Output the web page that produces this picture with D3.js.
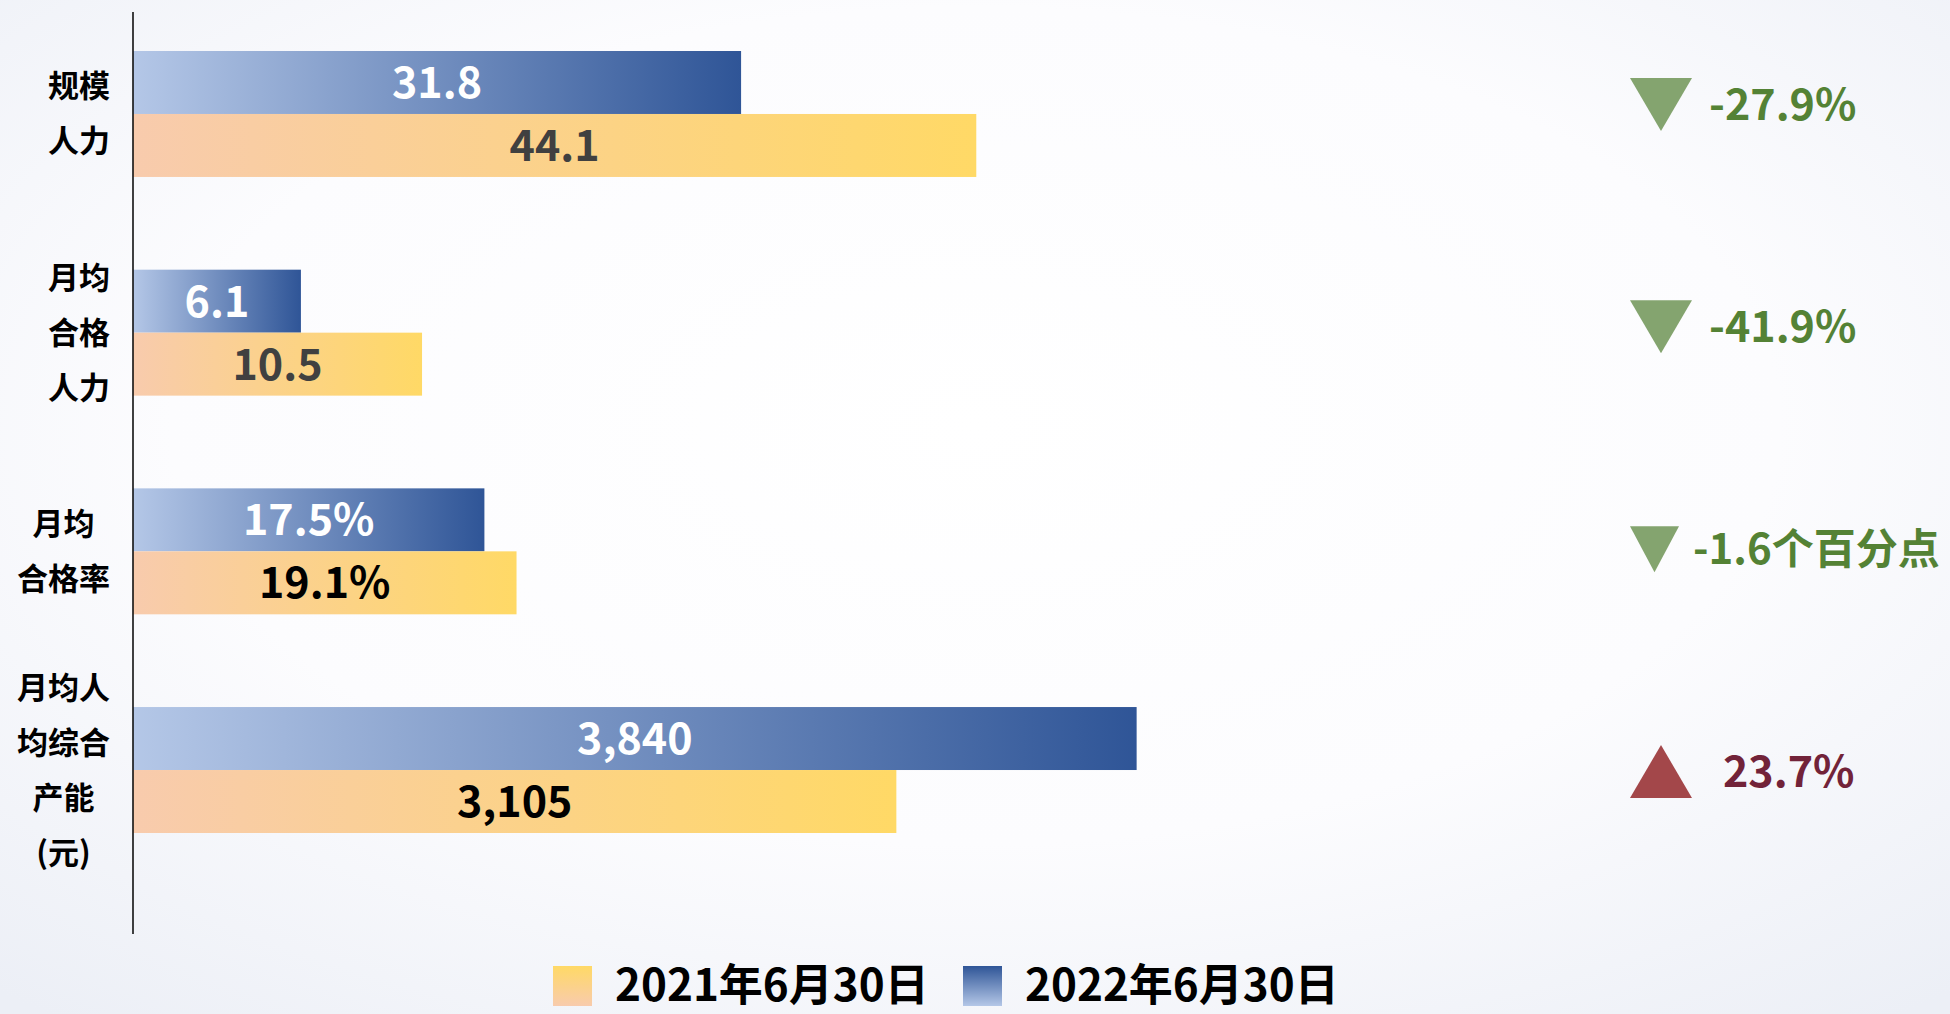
<!DOCTYPE html>
<html>
<head>
<meta charset="utf-8">
<script src="https://cdn.jsdelivr.net/npm/d3@7"></script>
<style>
    html, body { margin: 0; padding: 0; overflow: hidden; }
    body { width: 1950px; height: 1014px; }
    text { font-family: "Noto Sans CJK SC", "Noto Sans", sans-serif; font-weight: 700; }
</style>
</head>
<body>
<div id="chart"></div>
<script>
// categories, one label per group (split in lines as on the slide)
var categories = ["规模人力", "月均合格人力", "月均合格率", "月均人均综合产能(元)"];
var categoryLines = [["规模", "人力"], ["月均", "合格", "人力"], ["月均", "合格率"], ["月均人", "均综合", "产能", "(元)"]];

// series values
var seriesNames = ["2022年6月30日", "2021年6月30日"];
var values2022 = [31.8, 6.1, 17.5, 3840];
var values2021 = [44.1, 10.5, 19.1, 3105];

// each group has its own value scale on the slide
var domainMin = [0, 0, 0, 770];
var domainMax = [52.4, 36.4, 49.9, 3835];
var valueFormats = [".1f", ".1f", ".1f", ",.0f"];
var valueSuffix = ["", "", "%", ""];

// year-on-year change
var changeLabels = ["-27.9%", "-41.9%", "-1.6个百分点", "23.7%"];
var changeDirections = ["down", "down", "down", "up"];

// legend order
var legendItems = ["2021年6月30日", "2022年6月30日"];

var width = 1950
height = 1014

var svg = d3.select("#chart")
    .append("svg")
    .attr("width", width)
    .attr("height", height);

var defs = svg.append("defs");

// background: white centre fading to a pale grey-blue
var bg = defs.append("radialGradient").attr("id", "bg")
    .attr("cx", "50%").attr("cy", "42%").attr("r", "75%");
bg.append("stop").attr("offset", "0%").attr("stop-color", "#ffffff");
bg.append("stop").attr("offset", "55%").attr("stop-color", "#fcfcfe");
bg.append("stop").attr("offset", "100%").attr("stop-color", "#eceff6");
svg.append("rect").attr("width", width).attr("height", height).attr("fill", "url(#bg)");

function gradient(id, x2, y2, c0, c1) {
    var g = defs.append("linearGradient").attr("id", id)
        .attr("x1", "0%").attr("y1", "0%").attr("x2", x2).attr("y2", y2);
    g.append("stop").attr("offset", "0%").attr("stop-color", c0);
    g.append("stop").attr("offset", "100%").attr("stop-color", c1);
}
gradient("blueBar", "100%", "0%", "#b4c7e7", "#2f5597");
gradient("yellowBar", "100%", "0%", "#f8cbad", "#ffd966");
gradient("blueKey", "0%", "100%", "#2f5597", "#b4c7e7");
gradient("yellowKey", "0%", "100%", "#ffd966", "#f8cbad");

var barFill = { "2022年6月30日": "url(#blueBar)", "2021年6月30日": "url(#yellowBar)" };
var keyFill = { "2022年6月30日": "url(#blueKey)", "2021年6月30日": "url(#yellowKey)" };

// group positions
var y = d3.scaleBand()
    .domain(categories)
    .range([51, 833])
    .paddingInner(0.424)
    .paddingOuter(0);

var ySeries = d3.scaleBand()
    .domain(seriesNames)
    .range([0, y.bandwidth()]);

var yChange = d3.scalePoint()
    .domain(categories)
    .range([104.5, 771.5]);

var xLeft = 133, xRight = 1135;
var xScales = categories.map(function (c, i) {
    return d3.scaleLinear().domain([domainMin[i], domainMax[i]]).range([xLeft, xRight]);
});

var data = [];
categories.forEach(function (c, i) {
    data.push({ cat: c, i: i, series: "2022年6月30日", value: values2022[i] });
    data.push({ cat: c, i: i, series: "2021年6月30日", value: values2021[i] });
});

var labelColor2021 = ["#404040", "#404040", "#000000", "#000000"];

// bars
svg.selectAll(".bar")
    .data(data)
    .enter()
    .append("rect")
    .attr("class", "bar")
    .attr("x", xLeft)
    .attr("y", function (d) { return y(d.cat) + ySeries(d.series); })
    .attr("width", function (d) { return xScales[d.i](d.value) - xLeft; })
    .attr("height", ySeries.bandwidth())
    .attr("fill", function (d) { return barFill[d.series]; });

// value labels centred in the bars
svg.selectAll(".val")
    .data(data)
    .enter()
    .append("text")
    .attr("class", "val")
    .attr("x", function (d) { return (xLeft + xScales[d.i](d.value)) / 2; })
    .attr("y", function (d) { return y(d.cat) + ySeries(d.series) + ySeries.bandwidth() / 2 + 15.5; })
    .attr("text-anchor", "middle")
    .style("font-size", "43px")
    .attr("fill", function (d) { return d.series == "2022年6月30日" ? "#ffffff" : labelColor2021[d.i]; })
    .text(function (d) { return d3.format(valueFormats[d.i])(d.value) + valueSuffix[d.i]; });

// vertical axis line
svg.append("line")
    .attr("x1", xLeft).attr("x2", xLeft)
    .attr("y1", 12).attr("y2", 934)
    .attr("stroke", "#111")
    .attr("stroke-width", 1.6);

// category labels, lines centred, block right edge near the axis
var lineH = 55, labelSize = 31;
categories.forEach(function (c, i) {
    var lines = categoryLines[i];
    var maxLen = d3.max(lines, function (l) { return l.replace(/[()]/g, "").length + (l.match(/[()]/g) || []).length * 0.35; });
    var cx = 110 - maxLen * labelSize / 2;
    var cy = y(c) + y.bandwidth() / 2;
    svg.append("g").selectAll("text")
        .data(lines)
        .enter()
        .append("text")
        .attr("x", cx)
        .attr("y", function (d, k) { return cy + (k - (lines.length - 1) / 2) * lineH + 11; })
        .attr("text-anchor", "middle")
        .style("font-size", labelSize + "px")
        .attr("fill", "#000")
        .text(function (d) { return d; });
});

// change markers on the right
var triLeft = 1630;
categories.forEach(function (c, i) {
    var cy = yChange(c);
    var long = changeLabels[i].length > 7;
    var w = long ? 49 : 62, h = long ? 46 : 53;
    var down = changeDirections[i] == "down";
    var pts = down
        ? [[triLeft, cy - h / 2], [triLeft + w, cy - h / 2], [triLeft + w / 2, cy + h / 2]]
        : [[triLeft + w / 2, cy - h / 2], [triLeft + w, cy + h / 2], [triLeft, cy + h / 2]];
    svg.append("path")
        .attr("d", d3.line()(pts) + "Z")
        .attr("fill", down ? "#84a46f" : "#a3474a");
    var fs = long ? 42 : 43;
    svg.append("text")
        .attr("x", triLeft + w + (down ? (long ? 14 : 17) : 31))
        .attr("y", cy + fs * 0.36)
        .style("font-size", fs + "px")
        .attr("fill", down ? "#548235" : "#722339")
        .text(changeLabels[i]);
});

// legend
var legendX = [553, 963];
var legend = svg.selectAll(".key")
    .data(legendItems)
    .enter()
    .append("g")
    .attr("class", "key")
    .attr("transform", function (d, i) { return "translate(" + legendX[i] + ",966)"; });
legend.append("rect")
    .attr("width", 39)
    .attr("height", 40)
    .attr("fill", function (d) { return keyFill[d]; });
legend.append("text")
    .attr("x", 62)
    .attr("y", 35)
    .style("font-size", "44px")
    .attr("fill", "#000")
    .text(function (d) { return d; });
</script>
</body>
</html>
